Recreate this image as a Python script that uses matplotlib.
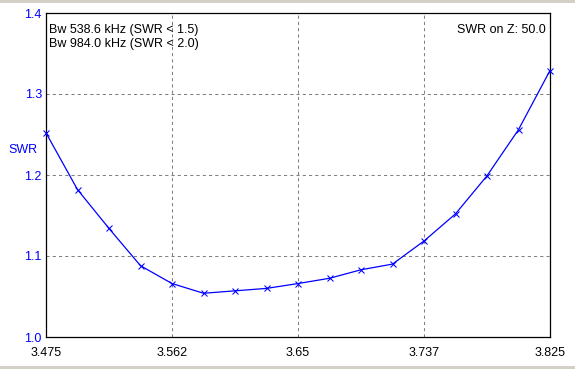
import matplotlib
matplotlib.use("Agg")
import matplotlib.pyplot as plt
from matplotlib.patches import Rectangle

freq = [3.475, 3.496875, 3.51875, 3.540625, 3.5625, 3.584375, 3.60625, 3.628125,
        3.65, 3.671875, 3.69375, 3.715625, 3.7375, 3.759375, 3.78125, 3.803125, 3.825]
swr = [1.252, 1.182, 1.134, 1.088, 1.066, 1.054, 1.057, 1.060, 1.066, 1.0725,
       1.083, 1.090, 1.1185, 1.152, 1.199, 1.256, 1.329]
xticks = [3.475, 3.5625, 3.65, 3.7375, 3.825]
xtick_labels = ["3.475", "3.562", "3.65", "3.737", "3.825"]
yticks = [1.0, 1.1, 1.2, 1.3, 1.4]
ytick_labels = ["1.0", "1.1", "1.2", "1.3", "1.4"]
info_lines = ["Bw 538.6 kHz (SWR < 1.5)", "Bw 984.0 kHz (SWR < 2.0)"]
z_text = "SWR on Z: 50.0"

plt.rcParams['font.family'] = ['Liberation Sans', 'DejaVu Sans']
W, H = 575, 369
fig = plt.figure(figsize=(W / 100, H / 100), dpi=100, facecolor='white')
grey = '#d4d0c8'
fig.add_artist(Rectangle((0, 1 - 3 / H), 1, 3 / H, transform=fig.transFigure,
                         facecolor=grey, edgecolor='none'))
fig.add_artist(Rectangle((0, 0), 1, 3 / H, transform=fig.transFigure,
                         facecolor=grey, edgecolor='none'))

L, R, T, B = 46, 550, 13, 337
ax = fig.add_axes([L / W, 1 - B / H, (R - L) / W, (B - T) / H])
ax.set_xlim(3.475, 3.825)
ax.set_ylim(1.0, 1.4)
for s in ax.spines.values():
    s.set_color('black')
    s.set_linewidth(0.9)

fs = 9
ax.set_xticks(xticks)
ax.set_xticklabels(xtick_labels)
ax.set_yticks(yticks)
ax.set_yticklabels(ytick_labels, color='blue')
ax.tick_params(axis='both', length=0, labelsize=fs)
ax.tick_params(axis='x', pad=7)
ax.tick_params(axis='y', pad=3)

for x in xticks[1:-1]:
    ax.axvline(x, color='#808080', lw=0.75, linestyle=(0, (3, 3)), zorder=1)
for y in yticks[1:-1]:
    ax.axhline(y, color='#808080', lw=0.75, linestyle=(0, (3, 3)), zorder=1)

ax.plot(freq, swr, color='blue', lw=0.9, marker='x', markersize=5,
        markeredgewidth=0.75, zorder=3, clip_on=False)

ax.text(49 / W, 1 - 29.5 / H, info_lines[0], transform=fig.transFigure,
        ha='left', va='center', fontsize=fs)
ax.text(49 / W, 1 - 43.5 / H, info_lines[1], transform=fig.transFigure,
        ha='left', va='center', fontsize=fs)
ax.text(546 / W, 1 - 30 / H, z_text, transform=fig.transFigure,
        ha='right', va='center', fontsize=fs)
fig.text(8 / W, 1 - 150 / H, "SWR", ha='left', va='center', fontsize=fs,
         color='blue')

fig.savefig("out.png", dpi=100, facecolor='white')
